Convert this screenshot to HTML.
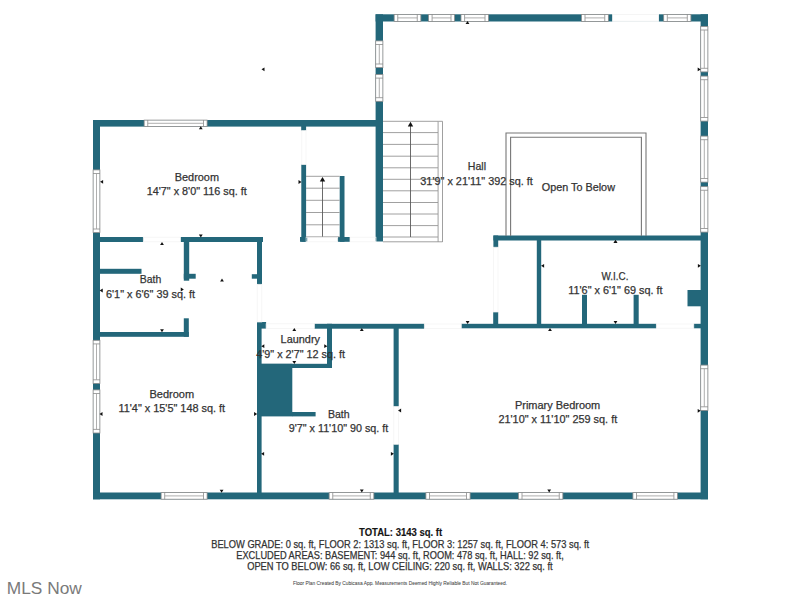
<!DOCTYPE html>
<html><head><meta charset="utf-8"><style>
html,body{margin:0;padding:0;background:#fff;}
body{width:800px;height:600px;overflow:hidden;position:relative;font-family:"Liberation Sans",sans-serif;}
svg{position:absolute;left:0;top:0;}
svg text{font-family:"Liberation Sans",sans-serif;}
.mls{position:absolute;left:6px;top:576px;font-size:16.5px;color:#7b7b7b;letter-spacing:0px;text-shadow:0 0 2px #fff;white-space:nowrap;}
</style></head><body>
<svg width="800" height="600" viewBox="0 0 800 600">
<rect x="375.60" y="14.30" width="332.40" height="7.20" fill="#23677a"/>
<rect x="375.60" y="14.30" width="7.40" height="227.20" fill="#23677a"/>
<rect x="700.60" y="14.30" width="7.40" height="485.00" fill="#23677a"/>
<rect x="93.00" y="120.00" width="290.00" height="6.60" fill="#23677a"/>
<rect x="93.00" y="120.00" width="7.00" height="379.30" fill="#23677a"/>
<rect x="93.00" y="492.50" width="615.00" height="6.80" fill="#23677a"/>
<rect x="100.00" y="237.00" width="43.30" height="5.00" fill="#23677a"/>
<rect x="180.60" y="237.00" width="82.40" height="5.00" fill="#23677a"/>
<rect x="100.00" y="268.80" width="41.50" height="5.00" fill="#23677a"/>
<rect x="100.00" y="332.00" width="88.80" height="4.80" fill="#23677a"/>
<rect x="183.80" y="318.30" width="5.00" height="18.50" fill="#23677a"/>
<rect x="183.80" y="237.00" width="5.40" height="43.70" fill="#23677a"/>
<rect x="183.80" y="273.80" width="11.90" height="4.90" fill="#23677a"/>
<rect x="257.00" y="237.00" width="5.00" height="47.30" fill="#23677a"/>
<rect x="251.80" y="274.20" width="5.20" height="4.50" fill="#23677a"/>
<rect x="257.00" y="322.00" width="4.60" height="174.00" fill="#23677a"/>
<rect x="257.00" y="322.00" width="9.10" height="6.60" fill="#23677a"/>
<rect x="314.40" y="323.80" width="109.90" height="4.90" fill="#23677a"/>
<rect x="327.00" y="323.80" width="5.00" height="44.20" fill="#23677a"/>
<rect x="261.00" y="363.80" width="71.00" height="4.20" fill="#23677a"/>
<rect x="261.00" y="363.80" width="31.30" height="52.60" fill="#23677a"/>
<rect x="292.00" y="412.00" width="23.60" height="4.40" fill="#23677a"/>
<rect x="393.60" y="328.00" width="5.10" height="78.50" fill="#23677a"/>
<rect x="393.60" y="444.30" width="5.10" height="51.70" fill="#23677a"/>
<rect x="301.20" y="126.00" width="4.90" height="4.60" fill="#23677a"/>
<rect x="301.30" y="164.60" width="4.80" height="77.20" fill="#23677a"/>
<rect x="300.00" y="237.00" width="7.20" height="4.80" fill="#23677a"/>
<rect x="339.70" y="176.00" width="4.80" height="65.80" fill="#23677a"/>
<rect x="337.70" y="237.00" width="12.30" height="4.80" fill="#23677a"/>
<rect x="493.40" y="235.50" width="207.60" height="5.00" fill="#23677a"/>
<rect x="493.40" y="235.50" width="4.80" height="11.70" fill="#23677a"/>
<rect x="493.20" y="312.00" width="5.00" height="16.00" fill="#23677a"/>
<rect x="461.30" y="323.80" width="195.00" height="4.50" fill="#23677a"/>
<rect x="693.80" y="323.80" width="7.20" height="4.50" fill="#23677a"/>
<rect x="536.80" y="240.00" width="4.40" height="84.00" fill="#23677a"/>
<rect x="582.00" y="294.80" width="5.00" height="29.20" fill="#23677a"/>
<rect x="633.60" y="294.80" width="5.10" height="29.20" fill="#23677a"/>
<rect x="687.50" y="290.00" width="13.50" height="16.30" fill="#23677a"/>
<rect x="394.15" y="14.40" width="26.70" height="7.00" fill="#fff" stroke="#8a8a8a" stroke-width="0.8"/>
<line x1="397.75" y1="14.30" x2="397.75" y2="21.50" stroke="#8a8a8a" stroke-width="0.8"/>
<line x1="417.25" y1="14.30" x2="417.25" y2="21.50" stroke="#8a8a8a" stroke-width="0.8"/>
<line x1="397.75" y1="17.90" x2="417.25" y2="17.90" stroke="#9a9a9a" stroke-width="0.8"/>
<rect x="428.50" y="14.40" width="26.10" height="7.00" fill="#fff" stroke="#8a8a8a" stroke-width="0.8"/>
<line x1="432.10" y1="14.30" x2="432.10" y2="21.50" stroke="#8a8a8a" stroke-width="0.8"/>
<line x1="451.00" y1="14.30" x2="451.00" y2="21.50" stroke="#8a8a8a" stroke-width="0.8"/>
<line x1="432.10" y1="17.90" x2="451.00" y2="17.90" stroke="#9a9a9a" stroke-width="0.8"/>
<rect x="461.00" y="14.40" width="27.60" height="7.00" fill="#fff" stroke="#8a8a8a" stroke-width="0.8"/>
<line x1="464.60" y1="14.30" x2="464.60" y2="21.50" stroke="#8a8a8a" stroke-width="0.8"/>
<line x1="485.00" y1="14.30" x2="485.00" y2="21.50" stroke="#8a8a8a" stroke-width="0.8"/>
<line x1="464.60" y1="17.90" x2="485.00" y2="17.90" stroke="#9a9a9a" stroke-width="0.8"/>
<rect x="581.40" y="14.40" width="26.95" height="7.00" fill="#fff" stroke="#8a8a8a" stroke-width="0.8"/>
<line x1="585.00" y1="14.30" x2="585.00" y2="21.50" stroke="#8a8a8a" stroke-width="0.8"/>
<line x1="604.75" y1="14.30" x2="604.75" y2="21.50" stroke="#8a8a8a" stroke-width="0.8"/>
<line x1="585.00" y1="17.90" x2="604.75" y2="17.90" stroke="#9a9a9a" stroke-width="0.8"/>
<rect x="663.70" y="14.40" width="27.20" height="7.00" fill="#fff" stroke="#8a8a8a" stroke-width="0.8"/>
<line x1="667.30" y1="14.30" x2="667.30" y2="21.50" stroke="#8a8a8a" stroke-width="0.8"/>
<line x1="687.30" y1="14.30" x2="687.30" y2="21.50" stroke="#8a8a8a" stroke-width="0.8"/>
<line x1="667.30" y1="17.90" x2="687.30" y2="17.90" stroke="#9a9a9a" stroke-width="0.8"/>
<rect x="612.3" y="14.0" width="46.6" height="7.8" fill="#fff"/>
<rect x="612.6" y="14.7" width="46" height="6.4" fill="none" stroke="#efefef" stroke-width="0.6"/>
<rect x="700.70" y="26.40" width="7.20" height="45.50" fill="#fff" stroke="#8a8a8a" stroke-width="0.8"/>
<line x1="700.60" y1="30.00" x2="708.00" y2="30.00" stroke="#8a8a8a" stroke-width="0.8"/>
<line x1="700.60" y1="68.30" x2="708.00" y2="68.30" stroke="#8a8a8a" stroke-width="0.8"/>
<line x1="704.30" y1="30.00" x2="704.30" y2="68.30" stroke="#9a9a9a" stroke-width="0.8"/>
<rect x="700.70" y="76.10" width="7.20" height="45.00" fill="#fff" stroke="#8a8a8a" stroke-width="0.8"/>
<line x1="700.60" y1="79.70" x2="708.00" y2="79.70" stroke="#8a8a8a" stroke-width="0.8"/>
<line x1="700.60" y1="117.50" x2="708.00" y2="117.50" stroke="#8a8a8a" stroke-width="0.8"/>
<line x1="704.30" y1="79.70" x2="704.30" y2="117.50" stroke="#9a9a9a" stroke-width="0.8"/>
<rect x="700.70" y="136.10" width="7.20" height="46.00" fill="#fff" stroke="#8a8a8a" stroke-width="0.8"/>
<line x1="700.60" y1="139.70" x2="708.00" y2="139.70" stroke="#8a8a8a" stroke-width="0.8"/>
<line x1="700.60" y1="178.50" x2="708.00" y2="178.50" stroke="#8a8a8a" stroke-width="0.8"/>
<line x1="704.30" y1="139.70" x2="704.30" y2="178.50" stroke="#9a9a9a" stroke-width="0.8"/>
<rect x="700.70" y="186.65" width="7.20" height="45.45" fill="#fff" stroke="#8a8a8a" stroke-width="0.8"/>
<line x1="700.60" y1="190.25" x2="708.00" y2="190.25" stroke="#8a8a8a" stroke-width="0.8"/>
<line x1="700.60" y1="228.50" x2="708.00" y2="228.50" stroke="#8a8a8a" stroke-width="0.8"/>
<line x1="704.30" y1="190.25" x2="704.30" y2="228.50" stroke="#9a9a9a" stroke-width="0.8"/>
<rect x="700.70" y="365.10" width="7.20" height="45.30" fill="#fff" stroke="#8a8a8a" stroke-width="0.8"/>
<line x1="700.60" y1="368.70" x2="708.00" y2="368.70" stroke="#8a8a8a" stroke-width="0.8"/>
<line x1="700.60" y1="406.80" x2="708.00" y2="406.80" stroke="#8a8a8a" stroke-width="0.8"/>
<line x1="704.30" y1="368.70" x2="704.30" y2="406.80" stroke="#9a9a9a" stroke-width="0.8"/>
<rect x="375.70" y="40.90" width="7.20" height="26.70" fill="#fff" stroke="#8a8a8a" stroke-width="0.8"/>
<line x1="375.60" y1="44.50" x2="383.00" y2="44.50" stroke="#8a8a8a" stroke-width="0.8"/>
<line x1="375.60" y1="64.00" x2="383.00" y2="64.00" stroke="#8a8a8a" stroke-width="0.8"/>
<line x1="379.30" y1="44.50" x2="379.30" y2="64.00" stroke="#9a9a9a" stroke-width="0.8"/>
<rect x="375.70" y="74.50" width="7.20" height="26.80" fill="#fff" stroke="#8a8a8a" stroke-width="0.8"/>
<line x1="375.60" y1="78.10" x2="383.00" y2="78.10" stroke="#8a8a8a" stroke-width="0.8"/>
<line x1="375.60" y1="97.70" x2="383.00" y2="97.70" stroke="#8a8a8a" stroke-width="0.8"/>
<line x1="379.30" y1="78.10" x2="379.30" y2="97.70" stroke="#9a9a9a" stroke-width="0.8"/>
<rect x="144.15" y="120.10" width="62.95" height="6.40" fill="#fff" stroke="#8a8a8a" stroke-width="0.8"/>
<line x1="147.75" y1="120.00" x2="147.75" y2="126.60" stroke="#8a8a8a" stroke-width="0.8"/>
<line x1="203.50" y1="120.00" x2="203.50" y2="126.60" stroke="#8a8a8a" stroke-width="0.8"/>
<line x1="147.75" y1="123.30" x2="203.50" y2="123.30" stroke="#9a9a9a" stroke-width="0.8"/>
<rect x="93.10" y="169.90" width="6.80" height="62.70" fill="#fff" stroke="#8a8a8a" stroke-width="0.8"/>
<line x1="93.00" y1="173.50" x2="100.00" y2="173.50" stroke="#8a8a8a" stroke-width="0.8"/>
<line x1="93.00" y1="229.00" x2="100.00" y2="229.00" stroke="#8a8a8a" stroke-width="0.8"/>
<line x1="96.50" y1="173.50" x2="96.50" y2="229.00" stroke="#9a9a9a" stroke-width="0.8"/>
<rect x="93.10" y="340.30" width="6.80" height="43.10" fill="#fff" stroke="#8a8a8a" stroke-width="0.8"/>
<line x1="93.00" y1="343.90" x2="100.00" y2="343.90" stroke="#8a8a8a" stroke-width="0.8"/>
<line x1="93.00" y1="379.80" x2="100.00" y2="379.80" stroke="#8a8a8a" stroke-width="0.8"/>
<line x1="96.50" y1="343.90" x2="96.50" y2="379.80" stroke="#9a9a9a" stroke-width="0.8"/>
<rect x="93.10" y="389.90" width="6.80" height="43.10" fill="#fff" stroke="#8a8a8a" stroke-width="0.8"/>
<line x1="93.00" y1="393.50" x2="100.00" y2="393.50" stroke="#8a8a8a" stroke-width="0.8"/>
<line x1="93.00" y1="429.40" x2="100.00" y2="429.40" stroke="#8a8a8a" stroke-width="0.8"/>
<line x1="96.50" y1="393.50" x2="96.50" y2="429.40" stroke="#9a9a9a" stroke-width="0.8"/>
<rect x="161.10" y="492.60" width="46.00" height="6.60" fill="#fff" stroke="#8a8a8a" stroke-width="0.8"/>
<line x1="164.70" y1="492.50" x2="164.70" y2="499.30" stroke="#8a8a8a" stroke-width="0.8"/>
<line x1="203.50" y1="492.50" x2="203.50" y2="499.30" stroke="#8a8a8a" stroke-width="0.8"/>
<line x1="164.70" y1="495.90" x2="203.50" y2="495.90" stroke="#9a9a9a" stroke-width="0.8"/>
<rect x="329.15" y="492.60" width="44.70" height="6.60" fill="#fff" stroke="#8a8a8a" stroke-width="0.8"/>
<line x1="332.75" y1="492.50" x2="332.75" y2="499.30" stroke="#8a8a8a" stroke-width="0.8"/>
<line x1="370.25" y1="492.50" x2="370.25" y2="499.30" stroke="#8a8a8a" stroke-width="0.8"/>
<line x1="332.75" y1="495.90" x2="370.25" y2="495.90" stroke="#9a9a9a" stroke-width="0.8"/>
<rect x="425.90" y="492.60" width="44.20" height="6.60" fill="#fff" stroke="#8a8a8a" stroke-width="0.8"/>
<line x1="429.50" y1="492.50" x2="429.50" y2="499.30" stroke="#8a8a8a" stroke-width="0.8"/>
<line x1="466.50" y1="492.50" x2="466.50" y2="499.30" stroke="#8a8a8a" stroke-width="0.8"/>
<line x1="429.50" y1="495.90" x2="466.50" y2="495.90" stroke="#9a9a9a" stroke-width="0.8"/>
<rect x="518.40" y="492.60" width="44.45" height="6.60" fill="#fff" stroke="#8a8a8a" stroke-width="0.8"/>
<line x1="522.00" y1="492.50" x2="522.00" y2="499.30" stroke="#8a8a8a" stroke-width="0.8"/>
<line x1="559.25" y1="492.50" x2="559.25" y2="499.30" stroke="#8a8a8a" stroke-width="0.8"/>
<line x1="522.00" y1="495.90" x2="559.25" y2="495.90" stroke="#9a9a9a" stroke-width="0.8"/>
<rect x="632.90" y="492.60" width="44.60" height="6.60" fill="#fff" stroke="#8a8a8a" stroke-width="0.8"/>
<line x1="636.50" y1="492.50" x2="636.50" y2="499.30" stroke="#8a8a8a" stroke-width="0.8"/>
<line x1="673.90" y1="492.50" x2="673.90" y2="499.30" stroke="#8a8a8a" stroke-width="0.8"/>
<line x1="636.50" y1="495.90" x2="673.90" y2="495.90" stroke="#9a9a9a" stroke-width="0.8"/>
<line x1="383.00" y1="121.30" x2="438.00" y2="121.30" stroke="#959595" stroke-width="0.9"/>
<line x1="383.00" y1="132.60" x2="438.00" y2="132.60" stroke="#959595" stroke-width="0.9"/>
<line x1="383.00" y1="144.40" x2="438.00" y2="144.40" stroke="#959595" stroke-width="0.9"/>
<line x1="383.00" y1="156.20" x2="438.00" y2="156.20" stroke="#959595" stroke-width="0.9"/>
<line x1="383.00" y1="167.80" x2="438.00" y2="167.80" stroke="#959595" stroke-width="0.9"/>
<line x1="383.00" y1="179.30" x2="438.00" y2="179.30" stroke="#959595" stroke-width="0.9"/>
<line x1="383.00" y1="190.80" x2="438.00" y2="190.80" stroke="#959595" stroke-width="0.9"/>
<line x1="383.00" y1="202.50" x2="438.00" y2="202.50" stroke="#959595" stroke-width="0.9"/>
<line x1="383.00" y1="214.00" x2="438.00" y2="214.00" stroke="#959595" stroke-width="0.9"/>
<line x1="383.00" y1="225.60" x2="438.00" y2="225.60" stroke="#959595" stroke-width="0.9"/>
<line x1="383.00" y1="237.00" x2="438.00" y2="237.00" stroke="#959595" stroke-width="0.9"/>
<line x1="438.10" y1="121.30" x2="438.10" y2="242.00" stroke="#959595" stroke-width="0.9"/>
<line x1="442.50" y1="121.30" x2="442.50" y2="242.00" stroke="#959595" stroke-width="0.9"/>
<line x1="438.10" y1="121.30" x2="442.50" y2="121.30" stroke="#959595" stroke-width="0.9"/>
<line x1="383.00" y1="241.80" x2="442.50" y2="241.80" stroke="#959595" stroke-width="0.9"/>
<line x1="410.50" y1="124.00" x2="410.50" y2="237.00" stroke="#5a5a5a" stroke-width="0.9"/>
<polygon points="407.8,126.6 413.2,126.6 410.5,121.8" fill="#111"/>
<line x1="306.00" y1="176.30" x2="339.70" y2="176.30" stroke="#959595" stroke-width="0.9"/>
<line x1="306.00" y1="188.20" x2="339.70" y2="188.20" stroke="#959595" stroke-width="0.9"/>
<line x1="306.00" y1="200.30" x2="339.70" y2="200.30" stroke="#959595" stroke-width="0.9"/>
<line x1="306.00" y1="212.50" x2="339.70" y2="212.50" stroke="#959595" stroke-width="0.9"/>
<line x1="306.00" y1="224.80" x2="339.70" y2="224.80" stroke="#959595" stroke-width="0.9"/>
<line x1="306.00" y1="236.80" x2="339.70" y2="236.80" stroke="#959595" stroke-width="0.9"/>
<line x1="322.50" y1="179.00" x2="322.50" y2="236.80" stroke="#5a5a5a" stroke-width="0.9"/>
<polygon points="319.8,181.6 325.2,181.6 322.5,176.9" fill="#111"/>
<path d="M506,236 V133 H646 V236" fill="none" stroke="#777" stroke-width="1.1"/>
<path d="M510.6,236 V137.3 H641.4 V236" fill="none" stroke="#777" stroke-width="1.1"/>
<rect x="301.8" y="130.5" width="4.2" height="34" fill="none" stroke="#f2f2f2" stroke-width="0.7"/>
<rect x="493.6" y="247.2" width="4.4" height="64.8" fill="none" stroke="#f2f2f2" stroke-width="0.7"/>
<rect x="656.3" y="324" width="37.5" height="4.2" fill="none" stroke="#f2f2f2" stroke-width="0.7"/>
<rect x="424.3" y="324" width="37" height="4.4" fill="none" stroke="#f2f2f2" stroke-width="0.7"/>
<rect x="393.8" y="406.5" width="4.8" height="37.8" fill="none" stroke="#f2f2f2" stroke-width="0.7"/>
<rect x="266.1" y="323.8" width="48.3" height="4.6" fill="none" stroke="#f2f2f2" stroke-width="0.7"/>
<rect x="257.2" y="284.3" width="4.6" height="37.7" fill="none" stroke="#f2f2f2" stroke-width="0.7"/>
<rect x="143.3" y="237.2" width="37.3" height="4.6" fill="none" stroke="#f2f2f2" stroke-width="0.7"/>
<rect x="306.1" y="237.2" width="31.6" height="4.6" fill="none" stroke="#f2f2f2" stroke-width="0.7"/>
<rect x="350" y="237.2" width="26" height="4.6" fill="none" stroke="#f2f2f2" stroke-width="0.7"/>
<polygon points="465.6,24.12 469.4,24.12 467.5,21.080000000000002" fill="#111"/>
<polygon points="697.6800000000001,67.5 697.6800000000001,71.30000000000001 700.72,69.4" fill="#111"/>
<polygon points="198.9,129.32 202.70000000000002,129.32 200.8,126.28" fill="#111"/>
<polygon points="103.11999999999999,179.9 103.11999999999999,183.70000000000002 100.08,181.8" fill="#111"/>
<polygon points="198.9,234.48 202.70000000000002,234.48 200.8,237.52" fill="#111"/>
<polygon points="160.1,245.12 163.9,245.12 162,242.07999999999998" fill="#111"/>
<polygon points="298.48,180.1 298.48,183.9 301.52,182" fill="#111"/>
<polygon points="102.72,288.6 102.72,292.4 99.68,290.5" fill="#111"/>
<polygon points="180.78,287.6 180.78,291.4 183.82000000000002,289.5" fill="#111"/>
<polygon points="160.1,329.28000000000003 163.9,329.28000000000003 162,332.32" fill="#111"/>
<polygon points="220.1,281.52 223.9,281.52 222,278.48" fill="#111"/>
<polygon points="264.32,344.3 264.32,348.09999999999997 261.28000000000003,346.2" fill="#111"/>
<polygon points="102.52,412.1 102.52,415.9 99.48,414" fill="#111"/>
<polygon points="254.07999999999998,412.1 254.07999999999998,415.9 257.12,414" fill="#111"/>
<polygon points="219.7,489.68 223.5,489.68 221.6,492.71999999999997" fill="#111"/>
<polygon points="292.40000000000003,331.12 296.2,331.12 294.3,328.08000000000004" fill="#111"/>
<polygon points="324.28000000000003,344.3 324.28000000000003,348.09999999999997 327.32,346.2" fill="#111"/>
<polygon points="292.40000000000003,360.88 296.2,360.88 294.3,363.91999999999996" fill="#111"/>
<polygon points="359.90000000000003,331.12 363.7,331.12 361.8,328.08000000000004" fill="#111"/>
<polygon points="401.12,408.6 401.12,412.4 398.08000000000004,410.5" fill="#111"/>
<polygon points="264.12,451.90000000000003 264.12,455.7 261.08000000000004,453.8" fill="#111"/>
<polygon points="390.88,451.90000000000003 390.88,455.7 393.91999999999996,453.8" fill="#111"/>
<polygon points="359.90000000000003,489.48 363.7,489.48 361.8,492.52" fill="#111"/>
<polygon points="547.3000000000001,489.48 551.1,489.48 549.2,492.52" fill="#111"/>
<polygon points="697.6800000000001,408.90000000000003 697.6800000000001,412.7 700.72,410.8" fill="#111"/>
<polygon points="544.12,263.90000000000003 544.12,267.7 541.08,265.8" fill="#111"/>
<polygon points="613.6,242.92000000000002 617.4,242.92000000000002 615.5,239.88" fill="#111"/>
<polygon points="613.6,320.88 617.4,320.88 615.5,323.91999999999996" fill="#111"/>
<polygon points="697.88,263.90000000000003 697.88,267.7 700.92,265.8" fill="#111"/>
<polygon points="465.70000000000005,320.88 469.5,320.88 467.6,323.91999999999996" fill="#111"/>
<polygon points="548.1,331.12 551.9,331.12 550,328.08000000000004" fill="#111"/>
<polygon points="613.6,242.92000000000002 617.4,242.92000000000002 615.5,239.88" fill="#111"/>
<polygon points="264.52,67.39999999999999 264.52,71.2 261.48,69.3" fill="#111"/>
<text x="196.90" y="181.20" font-size="10.9" font-weight="normal" fill="#333333" stroke="#333333" stroke-width="0.25" text-anchor="middle" textLength="44.20" lengthAdjust="spacingAndGlyphs">Bedroom</text>
<text x="196.70" y="195.00" font-size="10.9" font-weight="normal" fill="#333333" stroke="#333333" stroke-width="0.25" text-anchor="middle" textLength="100.00" lengthAdjust="spacingAndGlyphs">14'7&quot; x 8'0&quot; 116 sq. ft</text>
<text x="476.90" y="170.00" font-size="10.9" font-weight="normal" fill="#333333" stroke="#333333" stroke-width="0.25" text-anchor="middle" textLength="18.20" lengthAdjust="spacingAndGlyphs">Hall</text>
<text x="476.60" y="184.60" font-size="10.9" font-weight="normal" fill="#333333" stroke="#333333" stroke-width="0.25" text-anchor="middle" textLength="112.60" lengthAdjust="spacingAndGlyphs">31'9&quot; x 21'11&quot; 392 sq. ft</text>
<text x="578.40" y="191.30" font-size="10.9" font-weight="normal" fill="#333333" stroke="#333333" stroke-width="0.25" text-anchor="middle" textLength="73.10" lengthAdjust="spacingAndGlyphs">Open To Below</text>
<text x="150.50" y="282.90" font-size="10.9" font-weight="normal" fill="#333333" stroke="#333333" stroke-width="0.25" text-anchor="middle" textLength="21.50" lengthAdjust="spacingAndGlyphs">Bath</text>
<text x="150.50" y="297.50" font-size="10.9" font-weight="normal" fill="#333333" stroke="#333333" stroke-width="0.25" text-anchor="middle" textLength="89.00" lengthAdjust="spacingAndGlyphs">6'1&quot; x 6'6&quot; 39 sq. ft</text>
<text x="615.00" y="279.90" font-size="10.9" font-weight="normal" fill="#333333" stroke="#333333" stroke-width="0.25" text-anchor="middle" textLength="26.90" lengthAdjust="spacingAndGlyphs">W.I.C.</text>
<text x="615.40" y="294.40" font-size="10.9" font-weight="normal" fill="#333333" stroke="#333333" stroke-width="0.25" text-anchor="middle" textLength="94.20" lengthAdjust="spacingAndGlyphs">11'6&quot; x 6'1&quot; 69 sq. ft</text>
<text x="300.30" y="342.90" font-size="10.9" font-weight="normal" fill="#333333" stroke="#333333" stroke-width="0.25" text-anchor="middle" textLength="39.40" lengthAdjust="spacingAndGlyphs">Laundry</text>
<text x="300.60" y="357.50" font-size="10.9" font-weight="normal" fill="#333333" stroke="#333333" stroke-width="0.25" text-anchor="middle" textLength="88.70" lengthAdjust="spacingAndGlyphs">4'9&quot; x 2'7&quot; 12 sq. ft</text>
<text x="171.80" y="397.90" font-size="10.9" font-weight="normal" fill="#333333" stroke="#333333" stroke-width="0.25" text-anchor="middle" textLength="44.70" lengthAdjust="spacingAndGlyphs">Bedroom</text>
<text x="171.80" y="411.70" font-size="10.9" font-weight="normal" fill="#333333" stroke="#333333" stroke-width="0.25" text-anchor="middle" textLength="106.60" lengthAdjust="spacingAndGlyphs">11'4&quot; x 15'5&quot; 148 sq. ft</text>
<text x="338.80" y="417.70" font-size="10.9" font-weight="normal" fill="#333333" stroke="#333333" stroke-width="0.25" text-anchor="middle" textLength="21.70" lengthAdjust="spacingAndGlyphs">Bath</text>
<text x="338.50" y="431.90" font-size="10.9" font-weight="normal" fill="#333333" stroke="#333333" stroke-width="0.25" text-anchor="middle" textLength="99.50" lengthAdjust="spacingAndGlyphs">9'7&quot; x 11'10&quot; 90 sq. ft</text>
<text x="557.60" y="409.10" font-size="10.9" font-weight="normal" fill="#333333" stroke="#333333" stroke-width="0.25" text-anchor="middle" textLength="85.30" lengthAdjust="spacingAndGlyphs">Primary Bedroom</text>
<text x="557.80" y="423.40" font-size="10.9" font-weight="normal" fill="#333333" stroke="#333333" stroke-width="0.25" text-anchor="middle" textLength="118.80" lengthAdjust="spacingAndGlyphs">21'10&quot; x 11'10&quot; 259 sq. ft</text>
<text x="400.60" y="535.60" font-size="10.6" font-weight="bold" fill="#141414" stroke="#141414" stroke-width="0.15" text-anchor="middle" textLength="83.20" lengthAdjust="spacingAndGlyphs">TOTAL: 3143 sq. ft</text>
<text x="400.20" y="547.80" font-size="10.2" font-weight="normal" fill="#333333" stroke="#333333" stroke-width="0.25" text-anchor="middle" textLength="378.00" lengthAdjust="spacingAndGlyphs">BELOW GRADE: 0 sq. ft, FLOOR 2: 1313 sq. ft, FLOOR 3: 1257 sq. ft, FLOOR 4: 573 sq. ft</text>
<text x="400.00" y="559.00" font-size="10.2" font-weight="normal" fill="#333333" stroke="#333333" stroke-width="0.25" text-anchor="middle" textLength="327.50" lengthAdjust="spacingAndGlyphs">EXCLUDED AREAS: BASEMENT: 944 sq. ft, ROOM: 478 sq. ft, HALL: 92 sq. ft,</text>
<text x="399.90" y="570.30" font-size="10.2" font-weight="normal" fill="#333333" stroke="#333333" stroke-width="0.25" text-anchor="middle" textLength="305.50" lengthAdjust="spacingAndGlyphs">OPEN TO BELOW: 66 sq. ft, LOW CEILING: 220 sq. ft, WALLS: 322 sq. ft</text>
<text x="6.8" y="594.2" font-size="16.8" fill="#7a7a7a" stroke="#fff" stroke-width="0" textLength="75" lengthAdjust="spacingAndGlyphs">MLS Now</text>
<text x="400.00" y="585.40" font-size="5.0" font-weight="normal" fill="#444" stroke="#444" stroke-width="0.05" text-anchor="middle" textLength="214.00" lengthAdjust="spacingAndGlyphs">Floor Plan Created By Cubicasa App. Measurements Deemed Highly Reliable But Not Guaranteed.</text>
</svg>

</body></html>
